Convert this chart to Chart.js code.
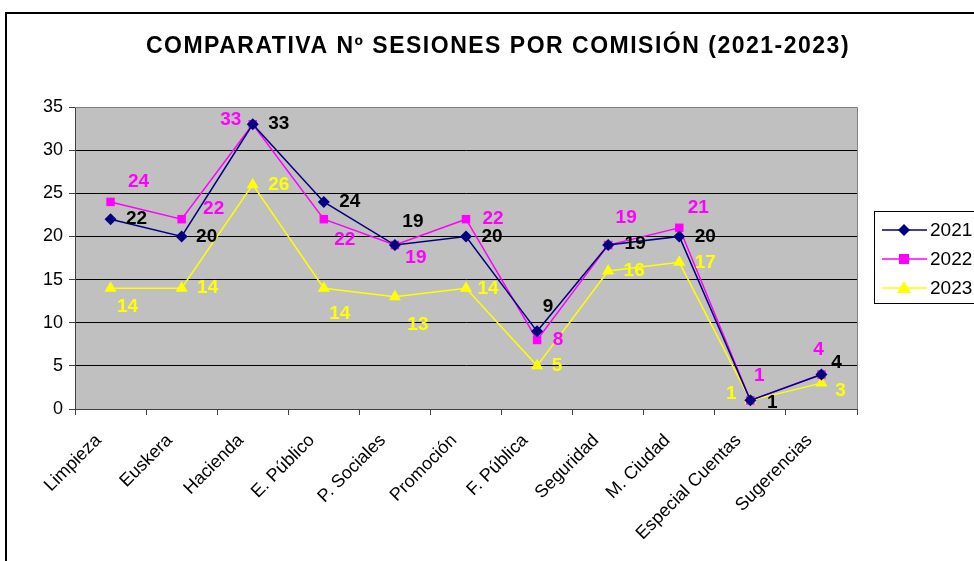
<!DOCTYPE html>
<html>
<head>
<meta charset="utf-8">
<script src="https://cdn.jsdelivr.net/npm/chart.js@4/dist/chart.umd.min.js"></script>
<style>
  html, body { margin: 0; padding: 0; background: #fff; }
  #wrap { width: 974px; height: 561px; position: relative; }
</style>
</head>
<body>
<div id="wrap"><canvas id="sesionesChart" width="974" height="561"></canvas></div>
<script>
// Data
const categories = [
  "Limpieza", "Euskera", "Hacienda", "E. Público", "P. Sociales", "Promoción",
  "F. Pública", "Seguridad", "M. Ciudad", "Especial Cuentas", "Sugerencias"
];
const sessions2021 = [22, 20, 33, 24, 19, 20, 9, 19, 20, 1, 4];
const sessions2022 = [24, 22, 33, 22, 19, 22, 8, 19, 21, 1, 4];
const sessions2023 = [14, 14, 26, 14, 13, 14, 5, 16, 17, 1, 3];
const seriesNames = ["2021", "2022", "2023"];
const yMin = 0;
const yMax = 35;
const yStep = 5;
const chartTitle = "COMPARATIVA Nº SESIONES POR COMISIÓN (2021-2023)";

const FONT = "'Liberation Sans', Arial, sans-serif";

// Where each data label sits relative to its point (Excel placed them by hand)
const labelShift = [
  [[26, 0], [25, 0], [26, 0], [26, 0], [18, -23], [26, 0], [11, -25], [27, -1], [26, 0], [22, 2], [15, -12]],
  [[28, -20], [32, -10], [-22, -4], [21, 21], [21, 13], [27, 0], [21, 0], [18, -27], [19, -20], [9, -25], [-3, -25]],
  [[17, 19], [26, 0], [26, 0], [16, 26], [23, 28], [22, 1], [20, 0], [26, 0], [26, 0], [-19, -7], [19, 8]],
];
const labelColors = ["#000000", "#FF00FF", "#FFFF00"];

function drawMarker(ctx, style, x, y, color) {
  ctx.save();
  ctx.fillStyle = color;
  ctx.beginPath();
  if (style === "rectRot") {
    ctx.moveTo(x, y - 6);
    ctx.lineTo(x + 6, y);
    ctx.lineTo(x, y + 6);
    ctx.lineTo(x - 6, y);
  } else if (style === "rect") {
    ctx.rect(x - 5, y - 5, 10, 10);
  } else {
    ctx.moveTo(x, y - 7);
    ctx.lineTo(x + 7, y + 5);
    ctx.lineTo(x - 7, y + 5);
  }
  ctx.closePath();
  ctx.fill();
  ctx.restore();
}

// Frame, title, plot background and the boxed legend
const excelLook = {
  id: "excelLook",
  beforeDraw(chart) {
    const ctx = chart.ctx;
    const a = chart.chartArea;
    ctx.save();
    ctx.fillStyle = "#C0C0C0";
    ctx.fillRect(a.left, a.top, a.right - a.left, a.bottom - a.top);
    ctx.restore();
  },
  afterDatasetsDraw(chart) {
    const ctx = chart.ctx;
    // data labels
    ctx.save();
    ctx.font = "bold 19px " + FONT;
    ctx.textAlign = "center";
    ctx.textBaseline = "middle";
    chart.data.datasets.forEach((ds, di) => {
      const meta = chart.getDatasetMeta(di);
      meta.data.forEach((pt, i) => {
        const s = labelShift[di][i];
        ctx.fillStyle = labelColors[di];
        ctx.fillText(String(ds.data[i]), pt.x + s[0], pt.y + s[1]);
      });
    });
    ctx.restore();
  },
  afterDraw(chart) {
    const ctx = chart.ctx;
    const a = chart.chartArea;
    ctx.save();
    // plot area border (top / right)
    ctx.strokeStyle = "#808080";
    ctx.lineWidth = 1;
    ctx.beginPath();
    ctx.moveTo(a.left, a.top + 0.5);
    ctx.lineTo(a.right + 0.5, a.top + 0.5);
    ctx.lineTo(a.right + 0.5, a.bottom);
    ctx.stroke();

    // outer chart frame, runs off the picture on the right and bottom
    ctx.strokeStyle = "#000";
    ctx.lineWidth = 2;
    ctx.strokeRect(6, 13, 1000, 600);

    // title
    ctx.fillStyle = "#000";
    ctx.font = "bold 23px " + FONT;
    ctx.textAlign = "center";
    ctx.textBaseline = "middle";
    ctx.letterSpacing = "1.5px";
    ctx.fillText(chartTitle, 498, 47);
    ctx.letterSpacing = "0px";

    // legend
    ctx.fillStyle = "#fff";
    ctx.fillRect(874, 211, 120, 92);
    ctx.strokeStyle = "#000";
    ctx.lineWidth = 1;
    ctx.strokeRect(874.5, 211.5, 120, 92);
    ctx.font = "19px " + FONT;
    ctx.textAlign = "left";
    chart.data.datasets.forEach((ds, di) => {
      const y = 230 + di * 29;
      ctx.strokeStyle = ds.borderColor;
      ctx.lineWidth = 1.5;
      ctx.beginPath();
      ctx.moveTo(882, y);
      ctx.lineTo(927, y);
      ctx.stroke();
      drawMarker(ctx, ds.pointStyle, 904, y, ds.backgroundColor);
      ctx.fillStyle = "#000";
      ctx.fillText(ds.label, 930, y + 1);
    });
    ctx.restore();
  },
};

const ctx = document.getElementById("sesionesChart").getContext("2d");

new Chart(ctx, {
  type: "line",
  data: {
    labels: categories,
    datasets: [
      {
        label: seriesNames[0],
        data: sessions2021,
        borderColor: "#000080",
        backgroundColor: "#000080",
        borderWidth: 1.5,
        pointStyle: "rectRot",
        pointRadius: 6,
        pointBorderWidth: 0,
        tension: 0,
      },
      {
        label: seriesNames[1],
        data: sessions2022,
        borderColor: "#FF00FF",
        backgroundColor: "#FF00FF",
        borderWidth: 1.5,
        pointStyle: "rect",
        pointRadius: 6,
        pointBorderWidth: 0,
        tension: 0,
      },
      {
        label: seriesNames[2],
        data: sessions2023,
        borderColor: "#FFFF00",
        backgroundColor: "#FFFF00",
        borderWidth: 1.5,
        pointStyle: "triangle",
        pointRadius: 7,
        pointBorderWidth: 0,
        tension: 0,
      },
    ],
  },
  options: {
    responsive: false,
    animation: false,
    events: [],
    layout: {
      padding: { left: 0, top: 107, right: 117, bottom: 0 },
    },
    plugins: {
      legend: { display: false },
      title: { display: false },
      tooltip: { enabled: false },
    },
    scales: {
      x: {
        offset: true,
        grid: {
          offset: true,
          drawOnChartArea: false,
          drawTicks: true,
          tickLength: 6,
          tickColor: "#404040",
        },
        border: { display: true, color: "#404040", width: 1 },
        ticks: {
          color: "#000",
          font: { family: FONT, size: 18 },
          minRotation: 45,
          maxRotation: 45,
          autoSkip: false,
          padding: 15,
          labelOffset: -12,
        },
        afterFit(scale) {
          scale.height = 152;
        },
      },
      y: {
        min: yMin,
        max: yMax,
        grid: {
          color: "#000",
          lineWidth: 1,
          drawTicks: true,
          tickLength: 6,
          tickColor: "#404040",
        },
        border: { display: true, color: "#404040", width: 1 },
        ticks: {
          stepSize: yStep,
          color: "#000",
          font: { family: FONT, size: 18 },
          padding: 6,
        },
        afterFit(scale) {
          scale.width = 75;
        },
      },
    },
  },
  plugins: [excelLook],
});
</script>
</body>
</html>
